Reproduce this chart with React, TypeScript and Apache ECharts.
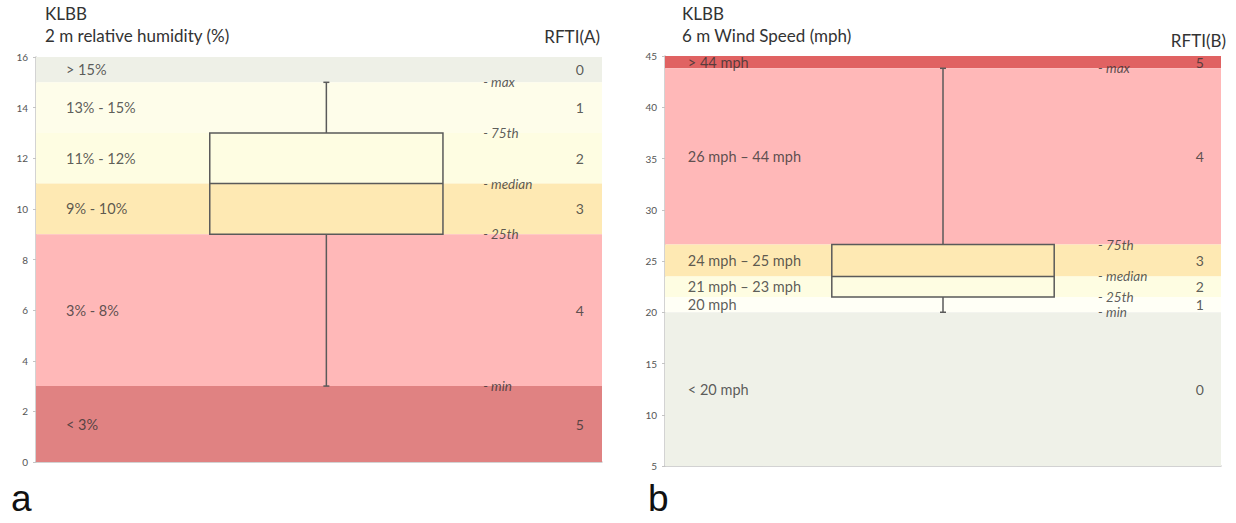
import React, { useEffect, useRef } from "react";
import * as echarts from "echarts";

// ---- Panel a: 2 m relative humidity (%) ----
const rhBandEdges = [16, 15, 13, 11, 9, 3, 0];
const rhBandLabels = ["> 15%", "13% - 15%", "11% - 12%", "9% - 10%", "3% - 8%", "< 3%"];
const rhBandRfti = ["0", "1", "2", "3", "4", "5"];
const rhStats = [3, 9, 11, 13, 15]; // min, q1, median, q3, max

// ---- Panel b: 6 m Wind Speed (mph) ----
const wsBandEdges = [45, 43.8, 26.6, 23.5, 21.5, 20, 5];
const wsBandLabels = ["> 44 mph", "26 mph – 44 mph", "24 mph – 25 mph", "21 mph – 23 mph", "20 mph", "< 20 mph"];
const wsBandRfti = ["5", "4", "3", "2", "1", "0"];
const wsStats = [20, 21.5, 23.5, 26.6, 43.8];

const statNames = ["- min", "- 25th", "- median", "- 75th", "- max"];

// palette
const rhColors = ["#eef0e7", "#fefdea", "#fefde2", "#fee9b3", "#ffb8b8", "#e08282"];
const wsColors = ["#e06262", "#ffb8b8", "#fee9b3", "#fefde2", "#fffff6", "#eff1e8"];

const FONT = "Lato, 'Liberation Sans', sans-serif";
const TEXT = "#333";

function bandsData(edges: number[]) {
  const out: number[][] = [];
  for (let i = 0; i < edges.length - 1; i++) out.push([edges[i + 1], edges[i]]);
  return out;
}

function buildPanel(
  idx: number,
  edges: number[],
  labels: string[],
  rfti: string[],
  stats: number[],
  colors: string[],
  boxCenter: number,
  boxHalf: number,
  nameX: number,
  rftiX: number,
  statX: number
) {
  const bands = bandsData(edges);
  const series: any[] = [];
  series.push({
    type: "custom",
    xAxisIndex: idx,
    yAxisIndex: idx,
    z: 1,
    silent: true,
    data: bands,
    renderItem: (params: any, api: any) => {
      const lo = api.value(0);
      const hi = api.value(1);
      const p1 = api.coord([0, hi]);
      const p2 = api.coord([1, lo]);
      return {
        type: "rect",
        shape: { x: p1[0], y: p1[1], width: p2[0] - p1[0], height: p2[1] - p1[1] },
        style: { fill: colors[params.dataIndex] },
      };
    },
  });
  series.push({
    type: "custom",
    xAxisIndex: idx,
    yAxisIndex: idx,
    z: 3,
    silent: true,
    data: [stats],
    renderItem: (params: any, api: any) => {
      const mn = api.value(0), q1 = api.value(1), md = api.value(2), q3 = api.value(3), mx = api.value(4);
      const cMax = api.coord([boxCenter, mx]);
      const cMin = api.coord([boxCenter, mn]);
      const tl = api.coord([boxCenter - boxHalf, q3]);
      const br = api.coord([boxCenter + boxHalf, q1]);
      const mdl = api.coord([boxCenter - boxHalf, md]);
      const mdr = api.coord([boxCenter + boxHalf, md]);
      const cq3 = api.coord([boxCenter, q3]);
      const cq1 = api.coord([boxCenter, q1]);
      const stroke = { stroke: "#5a5a5a", lineWidth: 1.5, fill: "none" };
      return {
        type: "group",
        children: [
          { type: "line", shape: { x1: cMax[0], y1: cMax[1], x2: cq3[0], y2: cq3[1] }, style: stroke },
          { type: "line", shape: { x1: cMin[0], y1: cMin[1], x2: cq1[0], y2: cq1[1] }, style: stroke },
          { type: "line", shape: { x1: cMax[0] - 3, y1: cMax[1], x2: cMax[0] + 3, y2: cMax[1] }, style: stroke },
          { type: "line", shape: { x1: cMin[0] - 3, y1: cMin[1], x2: cMin[0] + 3, y2: cMin[1] }, style: stroke },
          {
            type: "rect",
            shape: { x: tl[0], y: tl[1], width: br[0] - tl[0], height: br[1] - tl[1] },
            style: { stroke: "#5a5a5a", lineWidth: 1.5, fill: "rgba(0,0,0,0)" },
          },
          { type: "line", shape: { x1: mdl[0], y1: mdl[1], x2: mdr[0], y2: mdr[1] }, style: stroke },
        ],
      };
    },
  });
  const centers = bands.map((b) => (b[0] + b[1]) / 2);
  series.push({
    type: "scatter",
    xAxisIndex: idx,
    yAxisIndex: idx,
    z: 4,
    symbolSize: 0,
    silent: true,
    data: labels.map((l, i) => ({ value: [nameX, centers[i]], name: l })),
    label: {
      show: true,
      position: "right",
      distance: 0,
      formatter: (p: any) => p.name,
      fontFamily: FONT,
      fontSize: 14.5,
      color: TEXT,
    },
  });
  series.push({
    type: "scatter",
    xAxisIndex: idx,
    yAxisIndex: idx,
    z: 4,
    symbolSize: 0,
    silent: true,
    data: rfti.map((l, i) => ({ value: [rftiX, centers[i]], name: l })),
    label: {
      show: true,
      position: "inside",
      formatter: (p: any) => p.name,
      fontFamily: FONT,
      fontSize: 14,
      color: TEXT,
    },
  });
  series.push({
    type: "scatter",
    xAxisIndex: idx,
    yAxisIndex: idx,
    z: 4,
    symbolSize: 0,
    silent: true,
    data: statNames.map((l, i) => ({ value: [statX, stats[i]], name: l })),
    label: {
      show: true,
      position: "right",
      distance: 0,
      formatter: (p: any) => p.name,
      fontFamily: FONT,
      fontStyle: "italic",
      fontSize: 13.5,
      color: TEXT,
    },
  });
  return series;
}

export default function App() {
  const ref = useRef<HTMLDivElement>(null);
  useEffect(() => {
    document.body.style.margin = "0";
    if (!ref.current) return;
    const chart = echarts.init(ref.current, null, { renderer: "svg" });
    const axisCommon = {
      axisLine: { show: true, lineStyle: { color: "#c4c4c4", width: 1.5 } },
      axisTick: { show: true, length: 3, lineStyle: { color: "#c4c4c4" } },
      axisLabel: { fontFamily: FONT, fontSize: 10, color: "#555", margin: 8 },
      splitLine: { show: false },
    };
    const xCommon = {
      type: "value",
      min: 0,
      max: 1,
      axisLine: { show: true, lineStyle: { color: "#c4c4c4", width: 1.5 } },
      axisTick: { show: false },
      axisLabel: { show: false },
      splitLine: { show: false },
    };
    const option: any = {
      animation: false,
      grid: [
        { left: 36, top: 57, width: 566, height: 405 },
        { left: 665, top: 56, width: 556, height: 410 },
      ],
      xAxis: [
        { ...xCommon, gridIndex: 0 },
        { ...xCommon, gridIndex: 1 },
      ],
      yAxis: [
        { type: "value", gridIndex: 0, min: 0, max: 16, interval: 2, ...axisCommon },
        { type: "value", gridIndex: 1, min: 5, max: 45, interval: 5, ...axisCommon },
      ],
      series: [
        ...buildPanel(0, rhBandEdges, rhBandLabels, rhBandRfti, rhStats, rhColors, 0.513, 0.206, 0.053, 0.961, 0.79),
        ...buildPanel(1, wsBandEdges, wsBandLabels, wsBandRfti, wsStats, wsColors, 0.5, 0.2, 0.041, 0.962, 0.779),
      ],
      graphic: [
        { type: "text", left: 45, top: 5, style: { text: "KLBB", font: `17px ${FONT}`, fill: TEXT } },
        { type: "text", left: 45, top: 27, style: { text: "2 m relative humidity (%)", font: `17px ${FONT}`, fill: TEXT } },
        { type: "text", right: 1236 - 600, top: 28, style: { text: "RFTI(A)", font: `17px ${FONT}`, fill: TEXT } },
        { type: "text", left: 682, top: 5, style: { text: "KLBB", font: `17px ${FONT}`, fill: TEXT } },
        { type: "text", left: 682, top: 27, style: { text: "6 m Wind Speed (mph)", font: `17px ${FONT}`, fill: TEXT } },
        { type: "text", right: 10, top: 32, style: { text: "RFTI(B)", font: `17px ${FONT}`, fill: TEXT } },
        { type: "text", left: 11, top: 480, style: { text: "a", font: `37px 'Liberation Sans', Arial, sans-serif`, fill: "#111" } },
        { type: "text", left: 648, top: 480, style: { text: "b", font: `37px 'Liberation Sans', Arial, sans-serif`, fill: "#111" } },
      ],
    };
    chart.setOption(option);
    return () => chart.dispose();
  }, []);
  return <div ref={ref} style={{ width: 1236, height: 523 }} />;
}
